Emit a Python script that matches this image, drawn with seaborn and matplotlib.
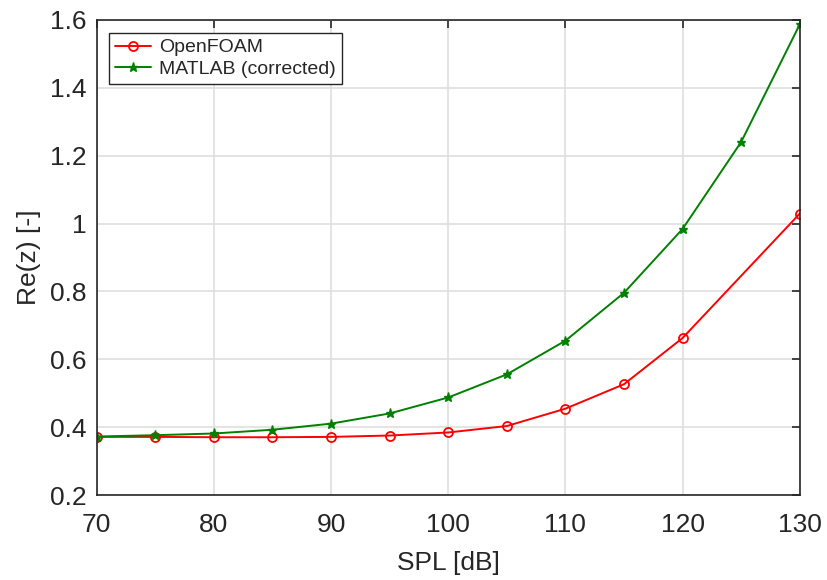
import matplotlib
matplotlib.use("Agg")
import matplotlib.pyplot as plt
import seaborn as sns
import pandas as pd

spl_openfoam = [70, 75, 80, 85, 90, 95, 100, 105, 110, 115, 120, 130]
re_openfoam = [0.372, 0.372, 0.371, 0.371, 0.372, 0.376, 0.385, 0.404, 0.455, 0.527, 0.663, 1.029]
spl_matlab = [70, 75, 80, 85, 90, 95, 100, 105, 110, 115, 120, 125, 130]
re_matlab = [0.373, 0.377, 0.382, 0.393, 0.411, 0.441, 0.488, 0.556, 0.655, 0.796, 0.984, 1.240, 1.586]
x_ticks = [70, 80, 90, 100, 110, 120, 130]
y_ticks = [0.2, 0.4, 0.6, 0.8, 1.0, 1.2, 1.4, 1.6]
y_ticklabels = ["0.2", "0.4", "0.6", "0.8", "1", "1.2", "1.4", "1.6"]

sns.set_theme(style="whitegrid")
plt.rcParams["font.family"] = ["Liberation Sans", "DejaVu Sans"]

df_of = pd.DataFrame({"SPL": spl_openfoam, "Re": re_openfoam})
df_ml = pd.DataFrame({"SPL": spl_matlab, "Re": re_matlab})

fig = plt.figure(figsize=(8.27, 5.8), dpi=100)
ax = fig.add_axes([0.117, 0.146, 0.850, 0.820])

dark = "#262626"
sns.lineplot(data=df_of, x="SPL", y="Re", ax=ax, color="#ff0000", lw=1.4,
             marker="o", markersize=6.5, markerfacecolor="none",
             markeredgecolor="#ff0000", markeredgewidth=1.3, label="OpenFOAM")
sns.lineplot(data=df_ml, x="SPL", y="Re", ax=ax, color="#008000", lw=1.4,
             marker="*", markersize=6.5, markerfacecolor="#008000",
             markeredgecolor="#008000", markeredgewidth=1.0, label="MATLAB (corrected)")

ax.set_xlim(70, 130)
ax.set_ylim(0.2, 1.6)
ax.set_xticks(x_ticks)
ax.set_yticks(y_ticks)
ax.set_yticklabels(y_ticklabels)
ax.set_xlabel("SPL [dB]", fontsize=19, color=dark, labelpad=10)
ax.set_ylabel("Re(z) [-]", fontsize=19, color=dark, labelpad=6)

ax.set_facecolor("white")
ax.grid(True, color="#dfdfdf", lw=1.2)
for s in ax.spines.values():
    s.set_visible(True)
    s.set_color(dark)
    s.set_linewidth(1.2)
ax.tick_params(axis="both", which="both", direction="in", length=6, width=1.2,
               colors=dark, labelsize=19, top=True, right=True, labelcolor=dark)
ax.tick_params(axis="x", pad=12.5)
ax.tick_params(axis="y", pad=7.5)

leg = ax.legend(loc="upper left", bbox_to_anchor=(0.017, 0.972), borderaxespad=0,
                fontsize=14, frameon=True, fancybox=False, handlelength=1.9,
                handletextpad=0.4, borderpad=0.3, labelspacing=0.2)
leg.get_frame().set_edgecolor(dark)
leg.get_frame().set_linewidth(1.0)
leg.get_frame().set_alpha(1)

fig.savefig("out.png", dpi=100)
